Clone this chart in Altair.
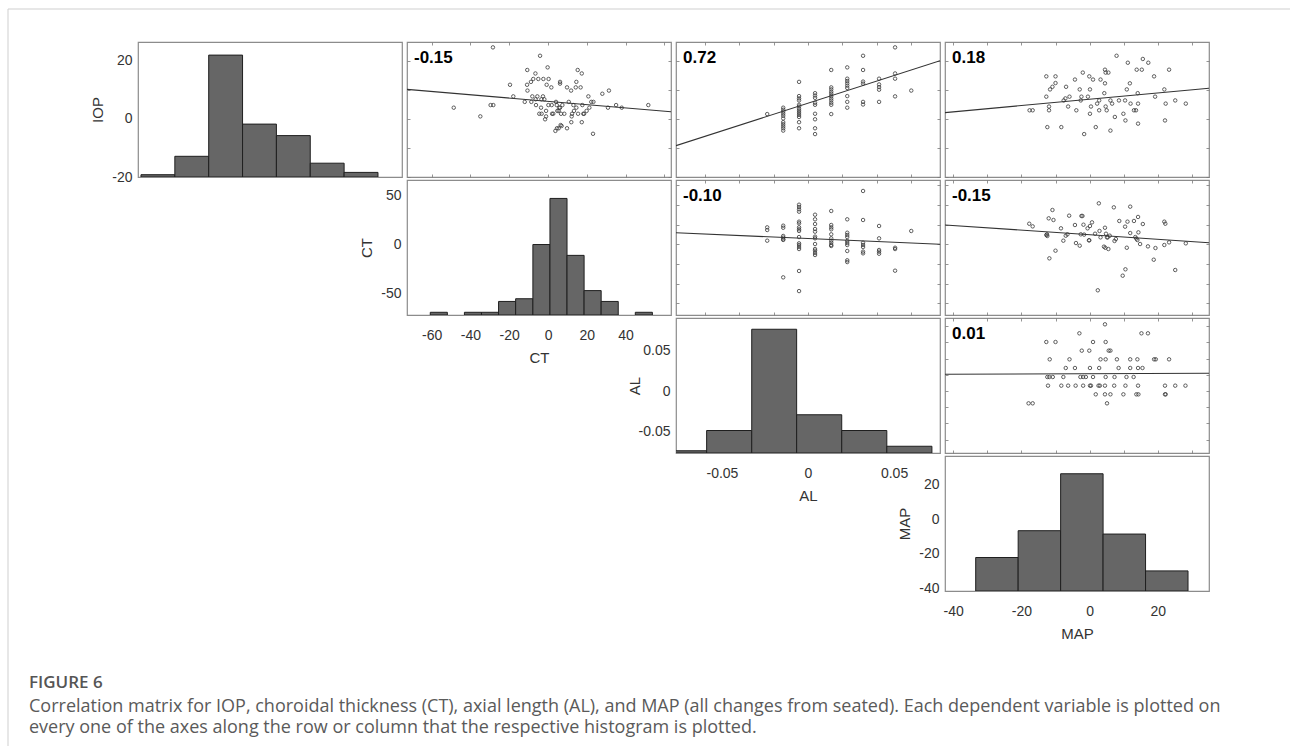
import altair as alt
import pandas as pd

# ---------------- data ----------------
variables = ["IOP", "CT", "AL", "MAP"]

# axis limits of each column (x) and row (y)
iop_x_limits = [-5.17, 27.58]
iop_y_limits = [-20.0, 26.55]
ct_x_limits = [-72.7, 63.4]
ct_y_limits = [-72.1, 65.6]
al_x_limits = [-0.0767, 0.0767]
al_y_limits = [-0.0765, 0.0901]
map_x_limits = [-42.4, 35.0]
map_y_limits = [-41.7, 36.5]

# histograms (bin edges and counts)
iop_bin_edges = [-4.8, -0.6, 3.6, 7.8, 12.0, 16.2, 20.4, 24.6]
iop_bin_counts = [1, 9, 53, 23, 18, 6, 2]
ct_bin_edges = [-60.7, -51.9, -43.1, -34.3, -25.5, -16.7, -7.8, 1.0, 9.8, 18.6, 27.4, 36.2, 45.0, 53.8]
ct_bin_counts = [1, 0, 1, 1, 5, 6, 26, 43, 22, 9, 5, 0, 1]
al_bin_edges = [-0.0851, -0.0589, -0.0327, -0.0066, 0.0196, 0.0458, 0.0720]
al_bin_counts = [1, 10, 55, 17, 10, 3]
map_bin_edges = [-33.4, -20.95, -8.5, 3.95, 16.4, 28.85]
map_bin_counts = [10, 18, 35, 17, 6]
hist_count_limits = [58.7, 49.8, 60.0, 40.3]

# tick labels
iop_y_labels = [-20, 0, 20]
ct_x_labels = [-60, -40, -20, 0, 20, 40]
ct_y_labels = [-50, 0, 50]
al_x_labels = [-0.05, 0, 0.05]
al_y_labels = [-0.05, 0, 0.05]
map_x_labels = [-40, -20, 0, 20]
map_y_labels = [-40, -20, 0, 20]

# tick marks of the scatter panels
ct_ticks = [-60, -40, -20, 0, 20, 40, 60]
al_ticks = [-0.06, -0.04, -0.02, 0, 0.02, 0.04, 0.06, 0.08]
map_ticks = [-40, -30, -20, -10, 0, 10, 20, 30]
iop_ticks = [-20, -10, 0, 10, 20]

# scatter: CT (x) vs IOP (y)
ct_iop_x = [-28.4, -4.1, -10.7, -0.2, -6.5, 15.3, 17.4, -19.6, -10.8, -7.6,
            -5.0, -2.4, 0.3, -10.6, -8.8, -0.7, 1.7, 6.2, 6.2, 9.8,
            11.9, 14.6, 14.3, 16.8, 28.0, 31.4, -17.9, -12.0, -8.6, -8.1,
            -6.4, -5.5, -2.6, -1.9, -3.4, 0.2, 4.1, 4.5, 5.8, 6.2,
            10.7, 13.1, 14.6, 17.7, 20.8, 22.3, 23.4, 30.9, 35.1, 38.0,
            51.7, -48.6, -34.9, -29.6, -28.2, -6.2, -3.6, -4.5, -3.3, -1.0,
            2.1, 2.7, 4.8, 5.5, 6.7, 8.4, 12.4, 13.4, 15.5, 18.2,
            19.9, 21.3, -1.5, -1.0, 6.5, 7.0, 5.5, 4.6, 3.8, 9.8,
            12.0, 17.4, 12.2, 23.2, 1.9, 7.4, 18.6]
ct_iop_y = [24.7, 21.8, 16.9, 17.8, 15.7, 16.9, 15.7, 11.8, 11.8, 13.8,
            13.8, 13.8, 13.8, 9.8, 12.8, 11.8, 10.9, 12.8, 12.2, 10.9,
            9.8, 12.8, 10.9, 10.9, 8.7, 9.8, 7.8, 5.9, 5.9, 7.8,
            6.8, 7.8, 7.8, 6.8, 6.8, 4.8, 5.9, 4.8, 3.9, 3.9,
            5.9, 4.8, 3.9, 4.8, 7.8, 5.9, 5.9, 3.9, 4.8, 3.9,
            4.8, 3.9, 0.9, 4.8, 4.8, 4.8, 3.9, 1.8, 1.8, 2.8,
            1.8, 1.8, 2.8, 2.8, 1.8, 1.8, 1.8, 2.8, 1.8, 1.8,
            2.8, 3.9, -0.1, 0.9, -2.1, -2.4, -3.2, -3.2, -4.1, -3.2,
            -1.1, -1.1, 0.9, -5.1, 4.8, 4.8, 1.8]

# scatter: AL (x) vs IOP (y)
al_iop_x = [-0.0237,
            -0.0144, -0.0144, -0.0144, -0.0144, -0.0144, -0.0144, -0.0144, -0.0144, -0.0144, -0.0144, -0.0144,
            -0.0052, -0.0052, -0.0052, -0.0052, -0.0052, -0.0052, -0.0052, -0.0052, -0.0052, -0.0052, -0.0052, -0.0052, -0.0052,
            0.0041, 0.0041, 0.0041, 0.0041, 0.0041, 0.0041, 0.0041, 0.0041, 0.0041,
            0.0135, 0.0135, 0.0135, 0.0135, 0.0135, 0.0135, 0.0135, 0.0135, 0.0135, 0.0135, 0.0135,
            0.0228, 0.0228, 0.0228, 0.0228, 0.0228, 0.0228, 0.0228, 0.0228, 0.0228,
            0.032, 0.032, 0.032, 0.032, 0.032, 0.032,
            0.0413, 0.0413, 0.0413, 0.0413, 0.0413,
            0.0506, 0.0506, 0.0506, 0.0506,
            0.06]
al_iop_y = [1.7,
            3.9, 3.2, 2.5, 1.8, 1.1, 0.2, -1.1, -1.8, -2.5, -3.2, -4.0,
            12.8, 7.9, 7.1, 6.4, 4.9, 4.3, 3.5, 2.8, 2.1, 1.4, 0.7, -1.1, -3.2,
            8.9, 8.1, 7.3, 5.6, 4.9, 1.8, -0.1, -3.2, -5.2,
            16.9, 10.9, 10.2, 9.4, 8.7, 7.9, 7.1, 6.4, 5.6, 4.9, 1.7,
            17.8, 13.9, 13.1, 12.3, 11.5, 10.7, 7.9, 5.9, 3.9,
            21.8, 16.9, 12.9, 12.2, 5.9, 5.0,
            13.9, 11.9, 11.0, 10.1, 5.9,
            24.7, 15.7, 13.9, 7.8,
            9.8]

# scatter: MAP (x) vs IOP (y)
map_iop_x = [-17.6, -16.7, -12.7, -12.7, -12.4, -11.9, -11.9, -11.6, -10.9, -10.0,
             -10.0, -8.3, -7.6, -7.1, -6.9, -6.3, -5.9, -4.3, -3.9, -2.9,
             -2.6, -2.4, -2.0, -1.6, -0.5, -0.1, 0.1, 0.1, 0.4, 1.0,
             1.8, 2.2, 2.8, 2.8, 3.2, 4.3, 4.5, 4.5, 4.7, 5.5,
             4.7, 5.0, 6.1, 6.1, 6.6, 7.4, 7.9, 8.6, 9.9, 10.4,
             10.5, 10.9, 11.2, 11.8, 12.0, 13.0, 13.6, 13.8, 14.1, 14.2,
             14.2, 15.3, 15.6, 17.2, 18.9, 19.2, 21.9, 22.1, 22.3, 23.3,
             25.1, 28.2]
map_iop_y = [3.0, 3.0, 14.7, 7.7, -2.8, 4.3, 3.0, 10.2, 11.1, 12.4,
             14.7, -2.8, 6.4, 7.1, 11.1, 4.3, 7.7, 13.6, 3.0, 10.2,
             6.4, 7.7, 16.0, -5.2, 7.7, 14.7, 1.8, 10.2, 4.3, 13.6,
             -2.8, 5.3, 6.4, 3.0, 13.6, 8.9, 12.3, 17.0, 16.0, 16.0,
             4.3, 3.0, 6.4, -4.0, 5.3, 0.7, 21.8, 6.4, 1.8, 6.4,
             -0.5, 10.2, 19.4, 12.3, 5.3, 3.0, 3.0, 17.0, 8.9, 5.3,
             -1.6, 17.0, 20.7, 19.4, 14.7, 7.7, 10.2, -0.5, 5.3, 17.0,
             6.4, 5.3]

# scatter: AL (x) vs CT (y)
al_ct_x = [-0.0237, -0.0237, -0.0237,
           -0.0144, -0.0144, -0.0144, -0.0144, -0.0144, -0.0144, -0.0144,
           -0.0052, -0.0052, -0.0052, -0.0052, -0.0052, -0.0052, -0.0052, -0.0052,
           -0.0052, -0.0052, -0.0052, -0.0052, -0.0052, -0.0052, -0.0052, -0.0052,
           0.0041, 0.0041, 0.0041, 0.0041, 0.0041, 0.0041, 0.0041, 0.0041, 0.0041, 0.0041, 0.0041, 0.0041,
           0.0135, 0.0135, 0.0135, 0.0135, 0.0135, 0.0135, 0.0135, 0.0135, 0.0135, 0.0135,
           0.0228, 0.0228, 0.0228, 0.0228, 0.0228, 0.0228, 0.0228, 0.0228, 0.0228, 0.0228,
           0.032, 0.032, 0.032, 0.032, 0.032, 0.032, 0.032,
           0.0413, 0.0413, 0.0413, 0.0413, 0.0413,
           0.0506, 0.0506, 0.0506,
           0.06]
al_ct_y = [17.3, 14.6, 3.7,
           19.0, 16.9, 8.5, 6.8, 5.1, 4.5, -33.7,
           40.4, 38.1, 35.7, 33.3, 23.1, 21.4, 17.3, 15.3,
           13.6, 7.4, 1.0, -0.7, -2.8, -4.8, -27.2, -47.7,
           30.2, 25.5, 20.7, 15.6, 12.9, 7.8, 6.1, 0.3, -4.8, -6.5, -8.9, -10.9,
           34.0, 19.7, 17.3, 15.3, 10.2, 6.1, 3.7, 1.6, -0.7, -1.7,
           25.5, 11.8, 9.5, 7.4, 3.4, 1.3, -0.7, -6.8, -16.3, -18.1,
           54.4, 24.8, 1.6, -0.7, -2.8, -7.5, -9.2,
           18.7, 6.1, -5.8, -7.5, -9.6,
           -3.5, -4.8, -26.9,
           13.6]

# scatter: MAP (x) vs CT (y)
map_ct_x = [-17.7, -16.7, -12.7, -12.5, -12.4, -12.0, -11.8, -10.9, -10.6, -10.0,
            -8.4, -7.7, -7.0, -6.5, -6.0, -4.3, -4.0, -2.9, -2.6, -2.4,
            -2.1, -1.8, -1.6, -0.6, -0.2, -0.1, 0.1, 0.7, 1.6, 2.4,
            2.7, 2.9, 3.2, 4.2, 4.5, 4.6, 4.8, 5.1, 5.3, 5.5,
            5.9, 7.1, 7.3, 7.7, 8.7, 9.7, 10.4, 10.5, 10.9, 11.1,
            11.9, 11.9, 13.0, 13.4, 13.7, 14.0, 14.2, 14.3, 14.8, 15.6,
            17.1, 18.8, 19.3, 21.9, 22.2, 21.9, 23.3, 25.1, 28.2]
map_ct_y = [21.0, 18.3, 9.5, 10.2, 8.5, 26.5, -14.3, 35.0, 24.8, -6.5,
            16.3, 3.7, 8.8, 10.2, 29.2, 19.7, 1.3, -1.4, 10.2, 28.9,
            28.9, 20.0, 9.9, 16.3, 4.1, 4.1, 18.7, 22.4, 10.8, -46.9,
            41.8, 13.6, 7.1, -2.4, 16.9, -3.5, 10.8, 7.1, 7.1, -4.8,
            8.8, 37.7, 3.4, 5.4, 23.8, -32.0, 18.0, -25.5, -3.5, 23.1,
            38.4, 11.5, 23.8, 7.4, 5.8, 4.4, 27.9, 12.2, 0.3, 20.7,
            -2.1, -15.7, -3.8, 23.1, 21.0, -0.7, 2.0, -26.2, 1.0]

# scatter: MAP (x) vs AL (y)
map_al_x = [4.5,
            -3.0, 15.2, 17.1,
            -12.7, -10.0, 1.0, 4.7,
            -2.3, -0.1, 5.6, 6.1,
            -11.7, -5.9, 3.2, 4.7, 8.0, 11.9, 14.0, 18.9, 19.4, 23.3,
            -7.0, -4.3, 0.1, 2.8, 8.5, 11.9, 14.2, 15.5,
            -12.4, -11.8, -10.8, -7.7, -2.7, -1.9, -1.1, 1.0, 4.7, 7.3, 10.8, 12.9,
            -12.2, -8.3, -6.3, -4.1, -1.9, 0.1, 0.4, 2.6, 3.0, 4.5, 7.2, 10.5, 14.2, 22.1, 25.1, 28.1,
            1.8, 4.5, 6.1, 9.9, 13.7, 14.3, 22.1, 22.3,
            -17.9, -16.7, 5.1]
map_al_y = [0.0823,
            0.0712, 0.0712, 0.0712,
            0.0605, 0.0605, 0.0605, 0.0605,
            0.0498, 0.0498, 0.0498, 0.0498,
            0.0391, 0.0391, 0.0391, 0.0391, 0.0391, 0.0391, 0.0391, 0.0391, 0.0391, 0.0391,
            0.0284, 0.0284, 0.0284, 0.0284, 0.0284, 0.0284, 0.0284, 0.0284,
            0.0173, 0.0173, 0.0173, 0.0173, 0.0173, 0.0173, 0.0173, 0.0173, 0.0173, 0.0173, 0.0173, 0.0173,
            0.0066, 0.0066, 0.0066, 0.0066, 0.0066, 0.0066, 0.0066, 0.0066, 0.0066, 0.0066, 0.0066, 0.0066,
            0.0066, 0.0066, 0.0066, 0.0066,
            -0.0041, -0.0041, -0.0041, -0.0041, -0.0041, -0.0041, -0.0041, -0.0041,
            -0.0152, -0.0152, -0.0152]

# correlation coefficients and least-squares lines (value at left / right axis limit)
r_labels = ["-0.15", "0.72", "0.18", "-0.10", "-0.15", "0.01"]
fit_at_left = [10.2, -9.2, 2.2, 11.8, 19.7, 0.0206]
fit_at_right = [2.5, 20.1, 10.6, 0.0, 1.6, 0.0219]

caption_title = "FIGURE 6"
caption_lines = [
    "Correlation matrix for IOP, choroidal thickness (CT), axial length (AL), and MAP (all changes from seated). Each dependent variable is plotted on",
    "every one of the axes along the row or column that the respective histogram is plotted.",
]

# ---------------- chart ----------------
W, H = 264, 135
TXT = "#333333"
AX = dict(labelFont="Liberation Sans", labelFontSize=14, labelColor=TXT,
          titleFont="Liberation Sans", titleFontSize=15, titleColor=TXT,
          titleFontWeight="normal", labelFlush=False, labelOverlap=False,
          grid=False, domain=False, ticks=False, tickSize=0)


def tick_axis(orient, values):
    return alt.Axis(orient=orient, values=values, labels=False, domain=False, grid=False,
                    ticks=True, tickSize=3, tickWidth=0.8, tickColor="#7a7a7a",
                    offset=-3, title=None)


def hist_cell(edges, counts, xdom, ydom, cmax, xlabels, ylabels, name, show_x, ytitle_pad=6):
    df = pd.DataFrame({"lo": edges[:-1], "hi": edges[1:], "n": counts})
    if show_x:
        xaxis = alt.Axis(values=xlabels, labelExpr="toString(datum.value)",
                         labelPadding=13, title=name, titlePadding=8, **AX)
    else:
        xaxis = None
    bars = alt.Chart(df).transform_filter("datum.n > 0").mark_rect(
        color="#666666", stroke="#1f1f1f", strokeWidth=1, clip=True
    ).encode(
        x=alt.X("lo:Q", scale=alt.Scale(domain=xdom, nice=False, zero=False), axis=xaxis),
        x2="hi:Q",
        y=alt.Y("n:Q", scale=alt.Scale(domain=[0, cmax], nice=False), axis=None),
        y2=alt.datum(0),
    )
    yaxis = alt.Axis(orient="left", values=ylabels, labelExpr="toString(datum.value)",
                     labelPadding=6, title=name, titlePadding=ytitle_pad, **AX)
    carrier = alt.Chart(pd.DataFrame({"v": ydom})).mark_point(opacity=0).encode(
        y=alt.Y("v:Q", scale=alt.Scale(domain=ydom, nice=False, zero=False), axis=yaxis)
    )
    return alt.layer(bars, carrier).resolve_scale(y="independent").properties(width=W, height=H)


def scatter_cell(xs, ys, xdom, ydom, xt, yt, k):
    pts = pd.DataFrame({"x": xs, "y": ys})
    fit = pd.DataFrame({"x": xdom, "y": [fit_at_left[k], fit_at_right[k]]})
    sx = alt.Scale(domain=xdom, nice=False, zero=False)
    sy = alt.Scale(domain=ydom, nice=False, zero=False)
    p = alt.Chart(pts).mark_point(shape="circle", filled=False, size=12, strokeWidth=0.9,
                                  color="#3a3a3a", opacity=0.9, clip=True).encode(
        x=alt.X("x:Q", scale=sx, axis=tick_axis("bottom", xt)),
        y=alt.Y("y:Q", scale=sy, axis=tick_axis("left", yt)),
    )
    ln = alt.Chart(fit).mark_line(color="#333333", strokeWidth=1.1, clip=True).encode(
        x=alt.X("x:Q", scale=sx, axis=tick_axis("top", xt)),
        y=alt.Y("y:Q", scale=sy, axis=tick_axis("right", yt)),
    )
    t = alt.Chart(pd.DataFrame({"r": [r_labels[k]]})).mark_text(
        align="left", baseline="alphabetic", font="Liberation Sans", fontSize=17,
        fontWeight="bold", color="#000000"
    ).encode(text="r:N", x=alt.value(7), y=alt.value(21))
    return alt.layer(p, ln, t).resolve_axis(x="independent", y="independent").properties(width=W, height=H)


def blank_cell(extra=None):
    base = alt.Chart(pd.DataFrame({"a": [0]})).mark_point(opacity=0).encode(
        x=alt.value(0), y=alt.value(0))
    layers = [base] + (extra or [])
    return alt.layer(*layers).properties(width=W, height=H,
                                         view=alt.ViewBackground(stroke="transparent"))


one = pd.DataFrame({"a": [0]})
frame_top = alt.Chart(one).mark_rule(color="#cfcfcf", strokeWidth=1).encode(
    x=alt.value(-130), x2=alt.value(1152), y=alt.value(-447))
frame_left = alt.Chart(one).mark_rule(color="#cfcfcf", strokeWidth=1).encode(
    x=alt.value(-130), y=alt.value(-447), y2=alt.value(290))
cap_title = alt.Chart(pd.DataFrame({"t": [caption_title]})).mark_text(
    align="left", baseline="alphabetic", font="Open Sans", fontSize=17, fontWeight=600,
    color="#555555").encode(text="t:N", x=alt.value(-109), y=alt.value(232))
cap_l1 = alt.Chart(pd.DataFrame({"t": [caption_lines[0]]})).mark_text(
    align="left", baseline="alphabetic", font="Open Sans", fontSize=18,
    color="#5a5a5a").encode(text="t:N", x=alt.value(-109), y=alt.value(256))
cap_l2 = alt.Chart(pd.DataFrame({"t": [caption_lines[1]]})).mark_text(
    align="left", baseline="alphabetic", font="Open Sans", fontSize=18,
    color="#5a5a5a").encode(text="t:N", x=alt.value(-109), y=alt.value(277))

cells = [
    hist_cell(iop_bin_edges, iop_bin_counts, iop_x_limits, iop_y_limits, hist_count_limits[0],
              [], iop_y_labels, variables[0], False),
    scatter_cell(ct_iop_x, ct_iop_y, ct_x_limits, iop_y_limits, ct_ticks, iop_ticks, 0),
    scatter_cell(al_iop_x, al_iop_y, al_x_limits, iop_y_limits, al_ticks, iop_ticks, 1),
    scatter_cell(map_iop_x, map_iop_y, map_x_limits, iop_y_limits, map_ticks, iop_ticks, 2),

    blank_cell(),
    hist_cell(ct_bin_edges, ct_bin_counts, ct_x_limits, ct_y_limits, hist_count_limits[1],
              ct_x_labels, ct_y_labels, variables[1], True),
    scatter_cell(al_ct_x, al_ct_y, al_x_limits, ct_y_limits, al_ticks, ct_ticks, 3),
    scatter_cell(map_ct_x, map_ct_y, map_x_limits, ct_y_limits, map_ticks, ct_ticks, 4),

    blank_cell(),
    blank_cell(),
    hist_cell(al_bin_edges, al_bin_counts, al_x_limits, al_y_limits, hist_count_limits[2],
              al_x_labels, al_y_labels, variables[2], True, ytitle_pad=-4),
    scatter_cell(map_al_x, map_al_y, map_x_limits, al_y_limits, map_ticks, al_ticks, 5),

    blank_cell([frame_top, frame_left, cap_title, cap_l1, cap_l2]),
    blank_cell(),
    blank_cell(),
    hist_cell(map_bin_edges, map_bin_counts, map_x_limits, map_y_limits, hist_count_limits[3],
              map_x_labels, map_y_labels, variables[3], True),
]

chart = alt.concat(
    *cells, columns=4, spacing={"row": 3, "column": 5}, bounds="flush", align="all"
).properties(
    padding={"left": 6, "top": 7, "right": 0, "bottom": 0}
).configure(
    background="white", font="Liberation Sans"
).configure_view(
    stroke="#8c8c8c", strokeWidth=1.2
)

chart.save("out.html", embed_options={"renderer": "svg", "actions": False})
